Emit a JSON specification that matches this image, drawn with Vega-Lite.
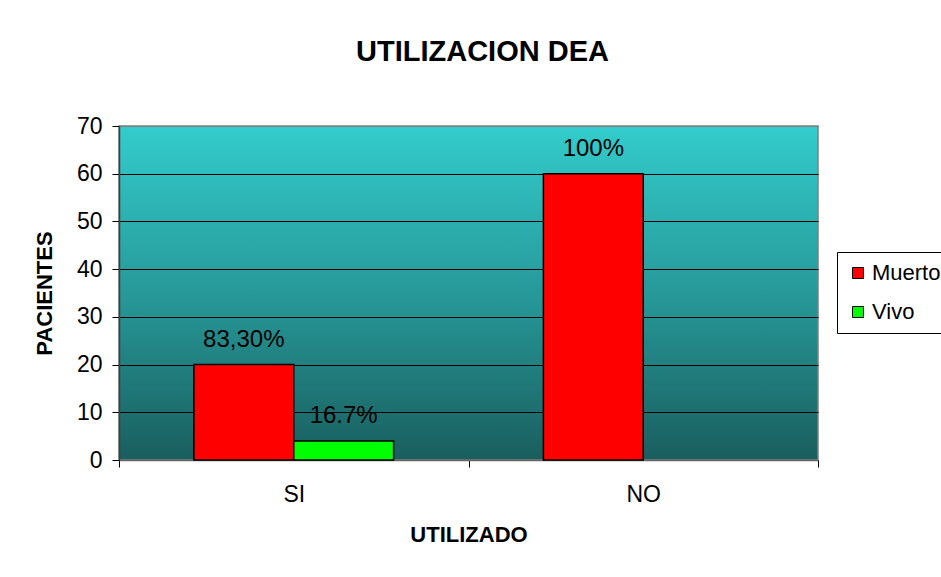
{
  "$schema": "https://vega.github.io/schema/vega-lite/v6.json",
  "autosize": "none",
  "width": 699,
  "height": 334,
  "padding": {"left": 119, "top": 126, "right": 123, "bottom": 117},
  "background": "white",
  "title": {
    "text": "UTILIZACION DEA",
    "fontSize": 29,
    "fontWeight": "bold",
    "font": "Liberation Sans",
    "color": "black",
    "anchor": "middle",
    "frame": "group",
    "dx": 14,
    "offset": 48
  },
  "config": {
    "font": "Liberation Sans",
    "view": {
      "stroke": "#808080",
      "strokeWidth": 1.5,
      "fill": {
        "gradient": "linear",
        "x1": 0, "y1": 0, "x2": 0, "y2": 1,
        "stops": [
          {"offset": 0, "color": "#33CCCC"},
          {"offset": 0.5, "color": "#279999"},
          {"offset": 1, "color": "#1A5E5E"}
        ]
      }
    }
  },
  "data": {
    "values": [
      {"utilizado": "SI", "estado": "Muerto", "pacientes": 20, "label": "83,30%"},
      {"utilizado": "SI", "estado": "Vivo", "pacientes": 4, "label": "16.7%"},
      {"utilizado": "NO", "estado": "Muerto", "pacientes": 60, "label": "100%"}
    ]
  },
  "encoding": {
    "x": {
      "field": "utilizado",
      "type": "nominal",
      "sort": ["SI", "NO"],
      "scale": {"paddingInner": 0, "paddingOuter": 0},
      "axis": {
        "title": "UTILIZADO",
        "titleFontSize": 22,
        "titleFontWeight": "bold",
        "titleColor": "black",
        "titlePadding": 18,
        "labelAngle": 0,
        "labelFontSize": 23,
        "labelColor": "black",
        "labelPadding": 16,
        "tickBand": "extent",
        "tickSize": 7,
        "tickColor": "black",
        "domainColor": "#666666",
        "domainWidth": 1.5,
        "grid": false
      }
    },
    "xOffset": {
      "field": "estado",
      "type": "nominal",
      "scale": {"domain": ["Muerto", "Vivo"], "paddingInner": 0, "paddingOuter": 0.75}
    },
    "y": {
      "field": "pacientes",
      "type": "quantitative",
      "scale": {"domain": [0, 70], "nice": false},
      "axis": {
        "title": "PACIENTES",
        "titleFontSize": 22,
        "titleFontWeight": "bold",
        "titleColor": "black",
        "titlePadding": 20,
        "values": [0, 10, 20, 30, 40, 50, 60, 70],
        "labelFontSize": 23,
        "labelColor": "black",
        "labelPadding": 10,
        "tickSize": 7,
        "tickColor": "black",
        "domainColor": "#404040",
        "domainWidth": 1.5,
        "grid": true,
        "gridColor": {"condition": {"test": "datum.value === 70", "value": "#808080"}, "value": "black"},
        "gridOpacity": 1,
        "gridWidth": 1
      }
    }
  },
  "layer": [
    {
      "mark": {"type": "bar", "stroke": "black", "strokeWidth": 1.5},
      "encoding": {
        "color": {
          "field": "estado",
          "type": "nominal",
          "scale": {"domain": ["Muerto", "Vivo"], "range": ["#FF0000", "#00FF00"]},
          "legend": {
            "title": null,
            "orient": "none",
            "legendX": 718,
            "legendY": 126,
            "strokeColor": "black",
            "fillColor": "white",
            "padding": 10,
            "symbolType": "square",
            "symbolSize": 121,
            "symbolStrokeColor": "black",
            "symbolStrokeWidth": 1,
            "symbolOpacity": 1,
            "labelFontSize": 22,
            "labelColor": "black",
            "labelOffset": 3,
            "rowPadding": 17
          }
        }
      }
    },
    {
      "mark": {"type": "text", "baseline": "alphabetic", "dy": -18, "fontSize": 24, "color": "black"},
      "encoding": {"text": {"field": "label"}}
    }
  ]
}
